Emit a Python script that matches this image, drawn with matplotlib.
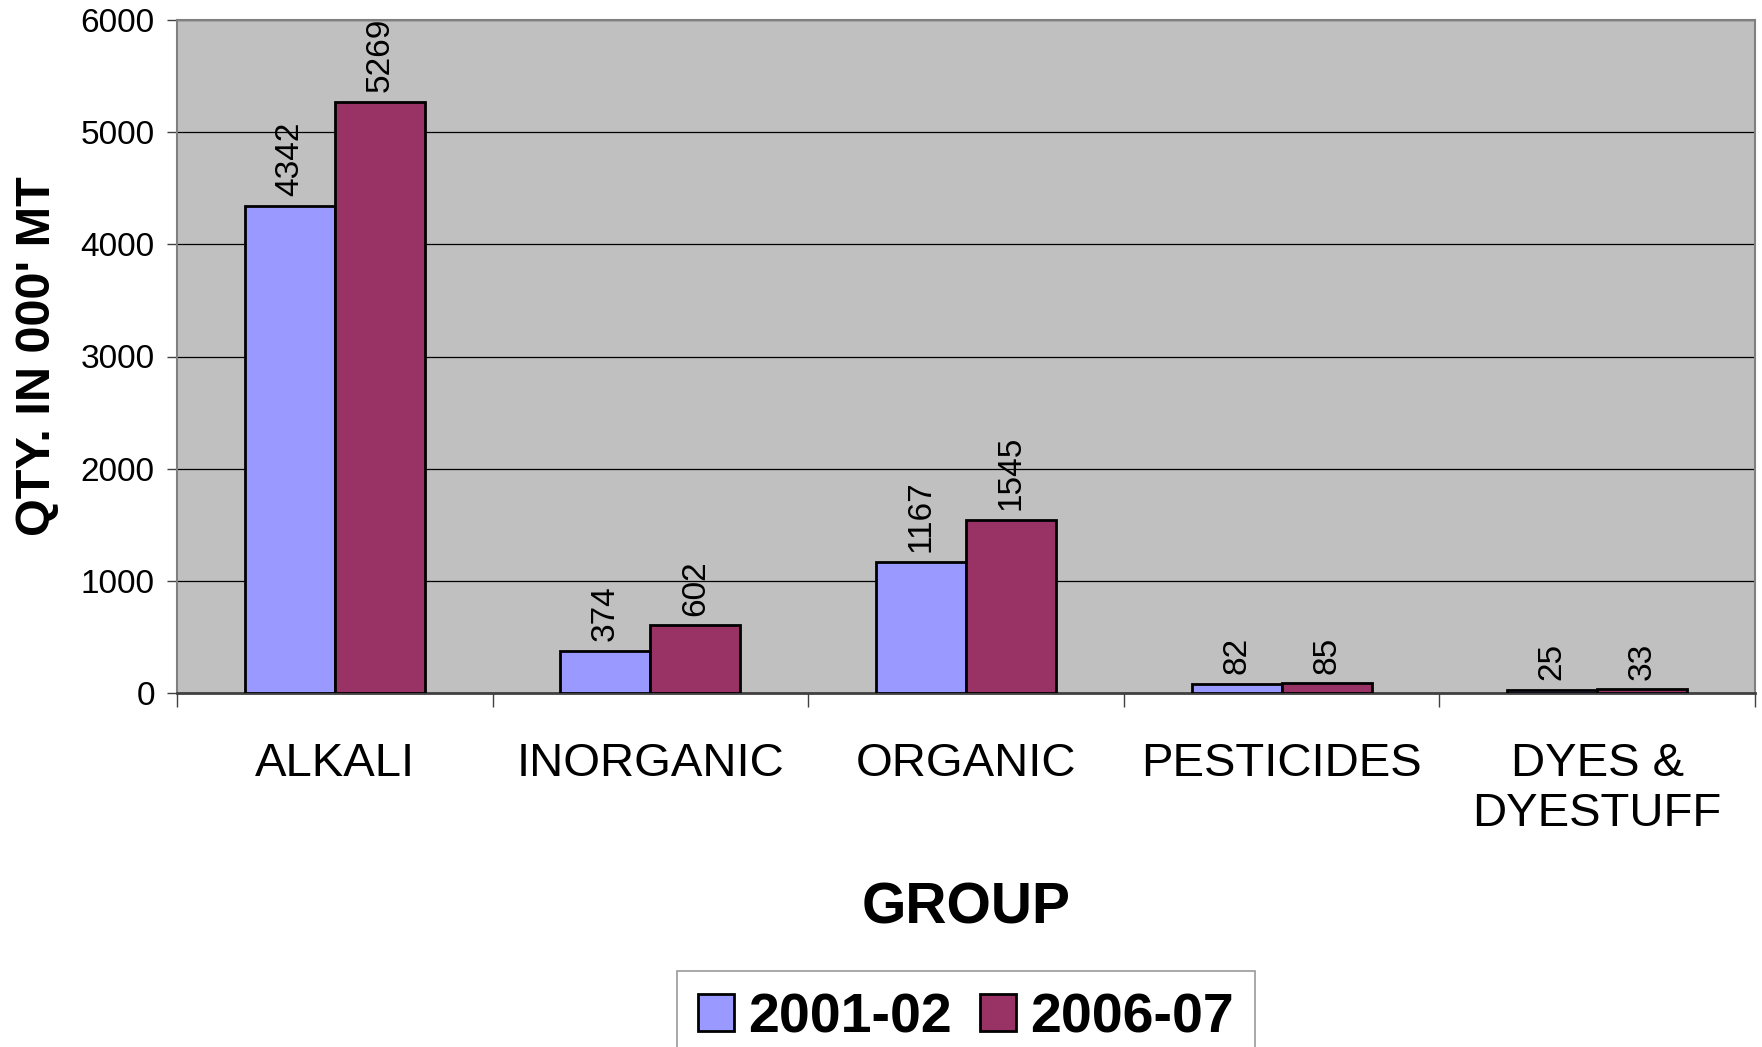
import numpy as np
import matplotlib.pyplot as plt

plt.rcParams['font.family'] = ['Liberation Sans', 'DejaVu Sans']

# ---- data ----
groups = ['ALKALI', 'INORGANIC', 'ORGANIC', 'PESTICIDES', 'DYES &\nDYESTUFF']
years = ['2001-02', '2006-07']
qty_2001 = [4342, 374, 1167, 82, 25]
qty_2006 = [5269, 602, 1545, 85, 33]
colors = ['#9999FF', '#993366']
y_ticks = [0, 1000, 2000, 3000, 4000, 5000, 6000]

fig = plt.figure(figsize=(17.62, 10.47), dpi=100)
ax = fig.add_axes([177 / 1762, 1 - 693 / 1047, (1755 - 177) / 1762, (693 - 20) / 1047])
ax.set_facecolor('#C0C0C0')

x = np.arange(len(groups))
w = 0.285
series = [qty_2001, qty_2006]
for i, vals in enumerate(series):
    b = ax.bar(x + (i - 0.5) * w, vals, w, color=colors[i], edgecolor='black',
               linewidth=2.0, label=years[i], zorder=3)
    # rotated value labels above each bar
    for rect, v in zip(b, vals):
        ax.annotate(str(v), (rect.get_x() + rect.get_width() / 2, v),
                    xytext=(0, 7), textcoords='offset points', rotation=90,
                    ha='center', va='bottom', fontsize=24, zorder=4)

ax.set_xlim(-0.5, len(groups) - 0.5)
ax.set_ylim(0, 6000)
ax.set_yticks(y_ticks)
ax.yaxis.grid(True, color='#000000', linewidth=0.9, zorder=1)
ax.tick_params(axis='y', labelsize=24, length=7, width=1, pad=9, color='#404040')

ax.set_xticks(x)
ax.set_xticklabels(groups, fontsize=34, linespacing=1.2)
ax.set_xticks(np.arange(len(groups) + 1) - 0.5, minor=True)
ax.tick_params(axis='x', which='major', length=0, pad=35)
ax.tick_params(axis='x', which='minor', length=10, width=1, color='#404040')

for side in ['left', 'top', 'right']:
    ax.spines[side].set_color('#808080')
    ax.spines[side].set_linewidth(1.5)
ax.spines['bottom'].set_color('#404040')
ax.spines['bottom'].set_linewidth(2)

fig.text(0.021, 1 - 356 / 1047, "QTY. IN 000' MT", rotation=90, ha='center',
         va='center', fontsize=35, fontweight='bold')
fig.text(966 / 1762, 1 - 908 / 1047, 'GROUP', ha='center', va='center',
         fontsize=41, fontweight='bold')

leg = ax.legend(loc='upper center', bbox_to_anchor=(966 / 1762, 1 - 971 / 1047),
                bbox_transform=fig.transFigure, ncol=2, fancybox=False,
                frameon=True, prop={'size': 40, 'weight': 'bold'},
                handlelength=0.65, handleheight=0.65, handletextpad=0.25,
                columnspacing=0.5, borderpad=0.38, borderaxespad=0)
leg.get_frame().set_edgecolor('#808080')
leg.get_frame().set_linewidth(1.2)
for h in leg.get_patches():
    h.set_linewidth(2.0)

fig.savefig('out.png', dpi=100)
